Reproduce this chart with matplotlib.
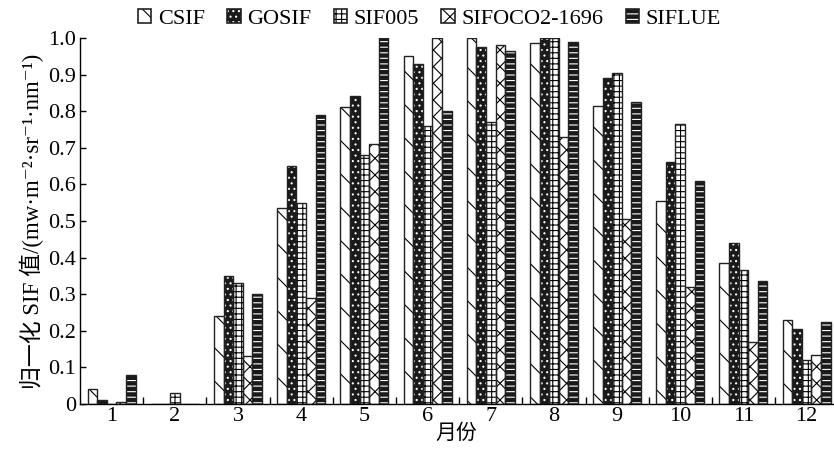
import matplotlib
matplotlib.use("Agg")
import matplotlib.pyplot as plt
from matplotlib.patches import Patch
from matplotlib.legend_handler import HandlerTuple
import numpy as np

plt.rcParams['font.family'] = ['Liberation Serif', 'Noto Sans CJK SC', 'DejaVu Serif']
plt.rcParams['hatch.linewidth'] = 0.8

months = ['1', '2', '3', '4', '5', '6', '7', '8', '9', '10', '11', '12']
series_names = ['CSIF', 'GOSIF', 'SIF005', 'SIFOCO2-1696', 'SIFLUE']

csif    = [0.04, 0.0, 0.24, 0.535, 0.81, 0.95, 1.0, 0.985, 0.815, 0.555, 0.385, 0.23]
gosif   = [0.01, 0.0, 0.35, 0.65, 0.84, 0.93, 0.975, 1.0, 0.89, 0.66, 0.44, 0.205]
sif005  = [0.0, 0.03, 0.33, 0.55, 0.68, 0.76, 0.77, 1.0, 0.905, 0.765, 0.365, 0.12]
sifoco2 = [0.005, 0.0, 0.13, 0.29, 0.71, 1.0, 0.98, 0.73, 0.505, 0.32, 0.17, 0.135]
siflue  = [0.08, 0.0, 0.30, 0.79, 1.0, 0.80, 0.965, 0.99, 0.825, 0.61, 0.335, 0.225]

yticks = [0, 0.1, 0.2, 0.3, 0.4, 0.5, 0.6, 0.7, 0.8, 0.9, 1.0]
ytick_labels = ['0', '0.1', '0.2', '0.3', '0.4', '0.5', '0.6', '0.7', '0.8', '0.9', '1.0']

data = [csif, gosif, sif005, sifoco2, siflue]
# style: (facecolor, hatchcolor, hatch)
styles = [
    ('white', 'black', '\\'),
    ('#1a1a1a', 'white', '...'),
    ('white', 'black', '+++'),
    ('white', 'black', 'xx'),
    ('#1a1a1a', 'white', '---'),
]

fig = plt.figure(figsize=(8.34, 4.51), dpi=100)
ax = fig.add_axes([0.096, 0.104, 0.903, 0.812])

x = np.arange(1, 13)
w = 0.152
handles = []
for i, (vals, (fc, hc, h)) in enumerate(zip(data, styles)):
    pos = x + (i - 2) * w
    ax.bar(pos, vals, width=w, color=fc, edgecolor=hc, hatch=h, linewidth=0, zorder=2)
    ax.bar(pos, vals, width=w, fill=False, edgecolor='#222222', linewidth=1.0, zorder=3)
    p1 = Patch(facecolor=fc, edgecolor=hc, hatch=h, linewidth=0)
    p2 = Patch(fill=False, edgecolor='#222222', linewidth=1.2)
    handles.append((p1, p2))

ax.set_xlim(0.5, 12.42)
ax.set_ylim(0, 1.0)
ax.set_xticks(x)
ax.set_xticklabels(months)
ax.set_xticks(np.arange(1.5, 12.0, 1.0), minor=True)
ax.tick_params(axis='x', which='major', length=0, labelsize=16, pad=2)
ax.tick_params(axis='x', which='minor', direction='in', length=5, width=1)
ax.set_yticks(yticks)
ax.set_yticklabels(ytick_labels)
ax.tick_params(axis='y', direction='in', length=4, width=1, labelsize=16, pad=3)

for s in ['top', 'right']:
    ax.spines[s].set_visible(False)
for s in ['left', 'bottom']:
    ax.spines[s].set_linewidth(1.0)

ax.set_ylabel('归一化 SIF 值/(mw·m⁻²·sr⁻¹·nm⁻¹)', fontsize=16.5, labelpad=3)
ax.set_xlabel('月份', fontsize=15, labelpad=-1)

fig.legend(handles, series_names, loc='upper center', bbox_to_anchor=(0.515, 1.025),
           ncol=5, frameon=False, fontsize=16, handlelength=0.6, handleheight=0.6,
           handletextpad=0.3, columnspacing=1.0,
           handler_map={tuple: HandlerTuple(ndivide=1, pad=0)})

fig.savefig('out.png', dpi=100)
